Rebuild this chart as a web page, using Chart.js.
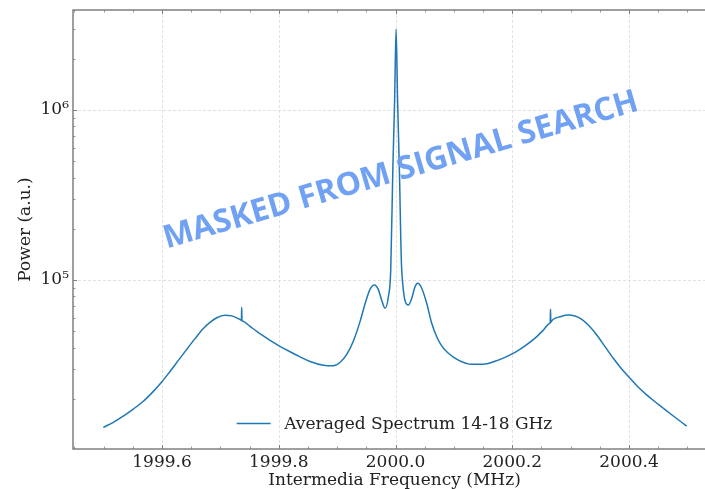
<!DOCTYPE html>
<html>
<head>
<meta charset="utf-8">
<script src="https://cdn.jsdelivr.net/npm/chart.js@4.4.1/dist/chart.umd.min.js"></script>
<style>
  html, body { margin: 0; padding: 0; background: #fff; overflow: hidden; }
  #wrap { width: 717px; height: 489px; }
</style>
</head>
<body>
<div id="wrap"><canvas id="spec" width="717" height="489"></canvas></div>
<script>
// Averaged spectrum
const freqMHz = [
  1999.4994, 1999.5166, 1999.5337, 1999.5508, 1999.5680, 1999.5851, 1999.5995, 1999.6137,
  1999.6280, 1999.6423, 1999.6565, 1999.6708, 1999.6822, 1999.6937, 1999.7079, 1999.7194,
  1999.7307, 1999.7355, 1999.7360, 1999.7365, 1999.7370, 1999.7375, 1999.7507, 1999.7622,
  1999.7735, 1999.7850, 1999.8021, 1999.8193, 1999.8364, 1999.8535, 1999.8763, 1999.8934,
  1999.9049, 1999.9164, 1999.9277, 1999.9392, 1999.9478, 1999.9563, 1999.9637, 1999.9705,
  1999.9764, 1999.9820, 1999.9877, 1999.9918, 1999.9955, 1999.9985, 2000.0010, 2000.0035,
  2000.0065, 2000.0106, 2000.0219, 2000.0278, 2000.0334, 2000.0380, 2000.0449, 2000.0534,
  2000.0620, 2000.0706, 2000.0791, 2000.0905, 2000.1076, 2000.1305, 2000.1533, 2000.1704,
  2000.1876, 2000.2047, 2000.2218, 2000.2390, 2000.2532, 2000.2645, 2000.2650, 2000.2655,
  2000.2660, 2000.2665, 2000.2703, 2000.2818, 2000.2960, 2000.3075, 2000.3190, 2000.3303,
  2000.3447, 2000.3589, 2000.3731, 2000.3875, 2000.4017, 2000.4160, 2000.4303, 2000.4445,
  2000.4588, 2000.4759, 2000.4988
];
const powerAU = [
  13600, 14550, 15850, 17420, 19360, 22130, 25120, 28970,
  33650, 39080, 45190, 51880, 56300, 60000, 62090, 61520,
  59290, 57940, 57800, 69100, 57600, 57410, 53330, 49890,
  46880, 44160, 40740, 37840, 35320, 33190, 31550, 31300,
  32730, 36480, 43650, 56890, 72440, 88100, 93540, 88100,
  75860, 68230, 79430, 114800, 464000, 1150000, 2990000, 1150000,
  464000, 114500, 71300, 78000, 91300, 95600, 89400, 72900,
  55700, 46400, 40950, 37070, 33800, 31920, 32060, 33270,
  35080, 37500, 40930, 45500, 50700, 55700, 56000, 67300,
  56400, 56800, 58750, 60800, 62250, 61400, 58750, 54380,
  47500, 40550, 34640, 29920, 26420, 23380, 21100, 19230,
  17600, 15850, 13830
];
const seriesLabel = 'Averaged Spectrum 14-18 GHz';

// axes
const xRange = [1999.4475, 2000.549];
const yRange = [1.014e4, 3.87e6];
const xMajorTicks = [1999.6, 1999.8, 2000.0, 2000.2, 2000.4];
const xTickLabels = ['1999.6', '1999.8', '2000.0', '2000.2', '2000.4'];
const xMinorTicks = [1999.45, 1999.5, 1999.55, 1999.65, 1999.7, 1999.75, 1999.85, 1999.9, 1999.95,
                     2000.05, 2000.1, 2000.15, 2000.25, 2000.3, 2000.35, 2000.45, 2000.5];
const yMajorTicks = [1e5, 1e6];
const yTickLabels = ['10\u2075', '10\u2076'];
const yMinorTicks = [2e4, 3e4, 4e4, 5e4, 6e4, 7e4, 8e4, 9e4,
                     2e5, 3e5, 4e5, 5e5, 6e5, 7e5, 8e5, 9e5, 2e6, 3e6];

const watermark = 'MASKED FROM SIGNAL SEARCH';
const wmFreq = 2000.009, wmPower = 4.4e5;

const SERIF = '"DejaVu Serif", serif';
const FS = 17;
const LINE = '#1f77b4';
const SPINE = '#808080';

function near(a, b) { return Math.abs(a - b) < 1e-6 * Math.max(1, Math.abs(b)); }

const framePlugin = {
  id: 'frame',
  beforeDatasetsDraw(chart) {
    const { ctx, chartArea: a, scales: { x, y } } = chart;
    ctx.save();
    ctx.strokeStyle = '#d9d9d9';
    ctx.lineWidth = 0.8;
    ctx.setLineDash([3, 2]);
    ctx.beginPath();
    xMajorTicks.forEach(v => {
      const px = Math.round(x.getPixelForValue(v)) + 0.5;
      ctx.moveTo(px, a.top); ctx.lineTo(px, a.bottom);
    });
    yMajorTicks.forEach(v => {
      const py = Math.round(y.getPixelForValue(v)) + 0.5;
      ctx.moveTo(a.left, py); ctx.lineTo(a.right, py);
    });
    ctx.stroke();
    ctx.restore();
  },
  afterDatasetsDraw(chart) {
    const { ctx, chartArea: a, scales: { x, y } } = chart;
    ctx.save();
    ctx.strokeStyle = SPINE;
    // inward ticks on every side
    const xtick = (list, len) => {
      ctx.beginPath();
      list.forEach(v => {
        const px = Math.round(x.getPixelForValue(v)) + 0.5;
        ctx.moveTo(px, a.bottom); ctx.lineTo(px, a.bottom - len);
        ctx.moveTo(px, a.top); ctx.lineTo(px, a.top + len);
      });
      ctx.stroke();
    };
    const ytick = (list, len) => {
      ctx.beginPath();
      list.forEach(v => {
        const py = Math.round(y.getPixelForValue(v)) + 0.5;
        ctx.moveTo(a.left, py); ctx.lineTo(a.left + len, py);
        ctx.moveTo(a.right, py); ctx.lineTo(a.right - len, py);
      });
      ctx.stroke();
    };
    ctx.lineWidth = 1;
    xtick(xMajorTicks, 4); ytick(yMajorTicks, 4);
    ctx.lineWidth = 0.8;
    xtick(xMinorTicks, 2.5); ytick(yMinorTicks, 2.5);
    ctx.lineWidth = 1.5;
    ctx.strokeRect(a.left, a.top, a.right - a.left, a.bottom - a.top);
    ctx.restore();
  },
  afterDraw(chart) {
    const { ctx, chartArea: a, scales: { x, y } } = chart;
    ctx.save();
    // legend: lower center, no frame
    ctx.font = FS + 'px ' + SERIF;
    const tw = ctx.measureText(seriesLabel).width;
    const handle = 2 * FS, gap = 0.8 * FS;
    const x0 = (a.left + a.right) / 2 - (handle + gap + tw) / 2;
    const ly = a.bottom - 25.5;
    ctx.strokeStyle = LINE; ctx.lineWidth = 1.5;
    ctx.beginPath(); ctx.moveTo(x0, ly); ctx.lineTo(x0 + handle, ly); ctx.stroke();
    ctx.fillStyle = '#222';
    ctx.textBaseline = 'middle';
    ctx.fillText(seriesLabel, x0 + handle + gap, ly + 1);
    // watermark annotation
    ctx.translate(x.getPixelForValue(wmFreq), y.getPixelForValue(wmPower));
    ctx.rotate(-16.3 * Math.PI / 180);
    ctx.font = 'bold 32px "Open Sans", sans-serif';
    ctx.textAlign = 'center';
    ctx.fillStyle = 'rgba(104, 156, 242, 0.95)';
    ctx.fillText(watermark, 0, 0);
    ctx.restore();
  }
};

new Chart(document.getElementById('spec'), {
  type: 'line',
  data: {
    datasets: [{
      label: seriesLabel,
      data: freqMHz.map((f, i) => ({ x: f, y: powerAU[i] })),
      borderColor: LINE,
      borderWidth: 1.5,
      pointRadius: 0,
      cubicInterpolationMode: 'monotone',
      fill: false
    }]
  },
  options: {
    responsive: false,
    animation: false,
    layout: { padding: { top: 10, right: 1, left: 0, bottom: 0 } },
    plugins: { legend: { display: false }, tooltip: { enabled: false } },
    scales: {
      x: {
        type: 'linear',
        min: xRange[0], max: xRange[1],
        grid: { display: false, drawTicks: false, tickLength: 0 },
        border: { display: false },
        afterBuildTicks(s) {
          s.ticks = [...xMajorTicks, ...xMinorTicks].sort((p, q) => p - q).map(v => ({ value: v }));
        },
        afterFit(s) { s.height = 40; s.paddingLeft = 0; s.paddingRight = 0; },
        ticks: {
          autoSkip: false, maxRotation: 0, padding: 3, color: '#222',
          font: { family: SERIF, size: FS },
          callback(v) {
            const i = xMajorTicks.findIndex(m => near(m, v));
            return i >= 0 ? xTickLabels[i] : '';
          }
        },
        title: {
          display: true, text: 'Intermedia Frequency (MHz)', color: '#222',
          font: { family: SERIF, size: FS }, padding: { top: 0, bottom: -2 }
        }
      },
      y: {
        type: 'logarithmic',
        min: yRange[0], max: yRange[1],
        grid: { display: false, drawTicks: false, tickLength: 0 },
        border: { display: false },
        afterBuildTicks(s) {
          s.ticks = [...yMinorTicks, ...yMajorTicks].sort((p, q) => p - q).map(v => ({ value: v }));
        },
        afterFit(s) { s.width = 73; s.paddingTop = 0; s.paddingBottom = 0; },
        ticks: {
          autoSkip: false, padding: 4, color: '#222',
          font: { family: SERIF, size: FS },
          callback(v) {
            const i = yMajorTicks.findIndex(m => near(m, v));
            return i >= 0 ? yTickLabels[i] : '';
          }
        },
        title: {
          display: true, text: 'Power (a.u.)', color: '#222',
          font: { family: SERIF, size: FS }, padding: { top: 15, bottom: 0 }
        }
      }
    }
  },
  plugins: [framePlugin]
});
</script>
</body>
</html>
